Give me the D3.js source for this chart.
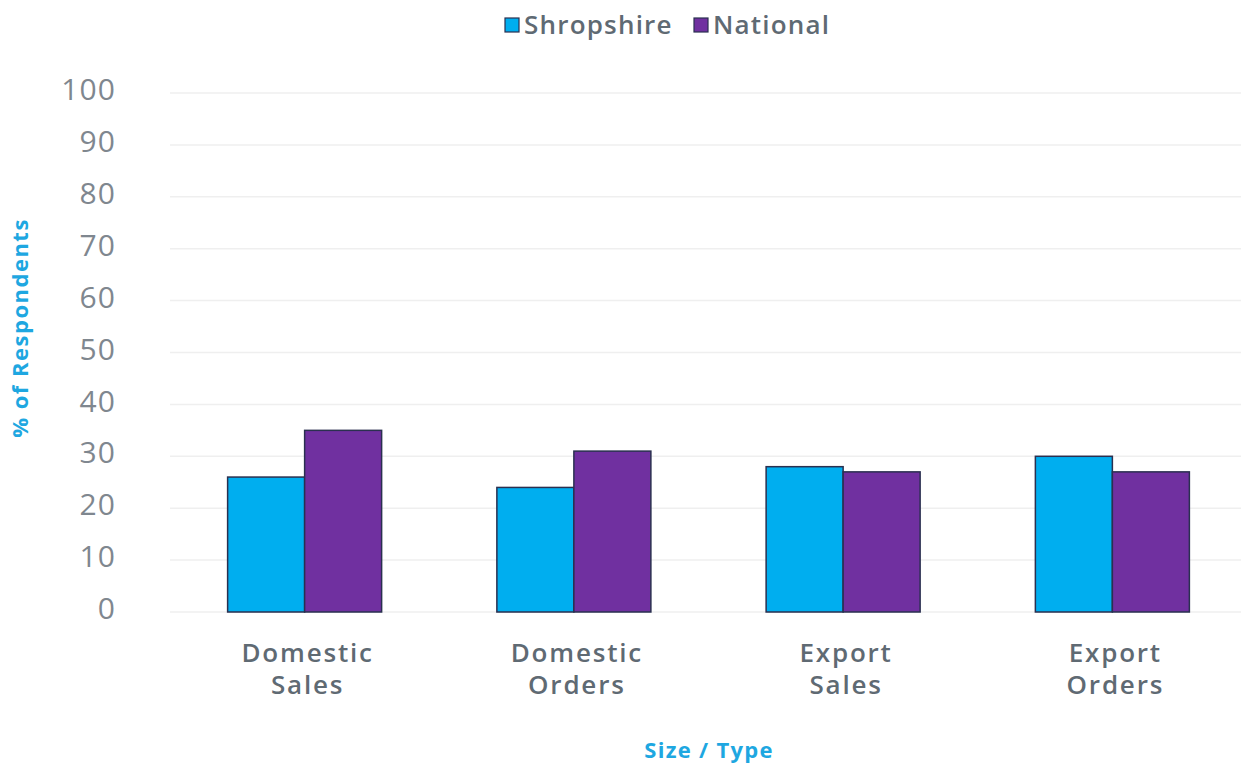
<!DOCTYPE html>
<html><head><meta charset="utf-8">
<script src="https://cdn.jsdelivr.net/npm/d3@7"></script>
<style>body{margin:0;background:#fff;} svg{display:block;font-family:"Open Sans",sans-serif;}</style>
</head><body>
<svg id="c" width="1241" height="764"></svg>
<script>
const categories = [["Domestic","Sales"],["Domestic","Orders"],["Export","Sales"],["Export","Orders"]];
const seriesNames = ["Shropshire","National"];
const shropshire = [26, 24, 28, 30];
const national = [35, 31, 27, 27];
const yTicks = [0,10,20,30,40,50,60,70,80,90,100];
const colors = ["#00aeef","#7030a0"];

(function(){
const svg = d3.select("#c");
const pLeft = 170, pRight = 1247, pTop = 93, pBottom = 612;
const keys = categories.map(c => c.join(" "));
const x = d3.scaleBand().domain(keys).range([pLeft,pRight]).paddingInner(0.428).paddingOuter(0.214);
const xs = d3.scaleBand().domain(seriesNames).range([0, x.bandwidth()]);
const y = d3.scaleLinear().domain([0,100]).range([pBottom, pTop]);

// grid
svg.append("g").selectAll("line").data(yTicks).join("line")
  .attr("x1", pLeft).attr("x2", pRight)
  .attr("y1", d => y(d)).attr("y2", d => y(d))
  .attr("stroke", "#efefef").attr("stroke-width", 1.5);

// y axis labels
const yAxis = d3.axisLeft(y).tickValues(yTicks).tickSize(0).tickPadding(0);
const yg = svg.append("g").attr("transform", `translate(116,-3)`).call(yAxis);
yg.select(".domain").remove();
yg.selectAll("text").attr("font-size", 30).attr("letter-spacing", 1.1).attr("fill", "#7f878f")
  .attr("font-family","'Open Sans',sans-serif").attr("font-weight", 400);

// bars
const data = keys.map((k,i) => ({k, vals:[shropshire[i], national[i]]}));
const g = svg.append("g").selectAll("g").data(data).join("g")
  .attr("transform", d => `translate(${x(d.k)},0)`);
g.selectAll("rect").data(d => d.vals.map((v,j) => ({s:seriesNames[j], v, j}))).join("rect")
  .attr("x", d => xs(d.s)).attr("width", xs.bandwidth())
  .attr("y", d => y(d.v)).attr("height", d => y(0) - y(d.v))
  .attr("fill", d => colors[d.j]).attr("stroke", "#2a3050").attr("stroke-width", 1.5);

// x labels
const xl = svg.append("g").selectAll("text").data(categories).join("text")
  .attr("text-anchor","middle")
  .attr("x", (d,i) => x(keys[i]) + x.bandwidth()/2 + 3)
  .attr("y", 662)
  .attr("font-size", 26).attr("letter-spacing", 1.8).attr("font-weight", 600).attr("fill", "#5f6a73");
xl.selectAll("tspan").data(d => d).join("tspan")
  .attr("x", function(){ return this.parentNode.getAttribute("x"); })
  .attr("dy", (d,i) => i === 0 ? 0 : 32)
  .text(d => d);

// axis titles
svg.append("text").attr("x", 709).attr("y", 758).attr("text-anchor","middle")
  .attr("font-size", 22).attr("letter-spacing", 1.3).attr("font-weight", 700).attr("fill", "#1ea7e1").text("Size / Type");
svg.append("text").attr("transform","translate(28,328) rotate(-90)").attr("text-anchor","middle")
  .attr("font-size", 22).attr("letter-spacing", 1.5).attr("font-weight", 700).attr("fill", "#1ea7e1").text("% of Respondents");

// legend
const legX = [505, 694];
const lg = svg.append("g").selectAll("g").data(seriesNames).join("g")
  .attr("transform", (d,i) => `translate(${legX[i]},25)`);
lg.append("rect").attr("x",0).attr("y",-7).attr("width",14).attr("height",14)
  .attr("fill",(d,i)=>colors[i]).attr("stroke","#2a3050").attr("stroke-width",1.2);
lg.append("text").attr("x",19).attr("y",9).attr("font-size",26).attr("letter-spacing", 1.2).attr("font-weight",600)
  .attr("fill","#5f6a73").text(d=>d);
})();
</script>
</body></html>
